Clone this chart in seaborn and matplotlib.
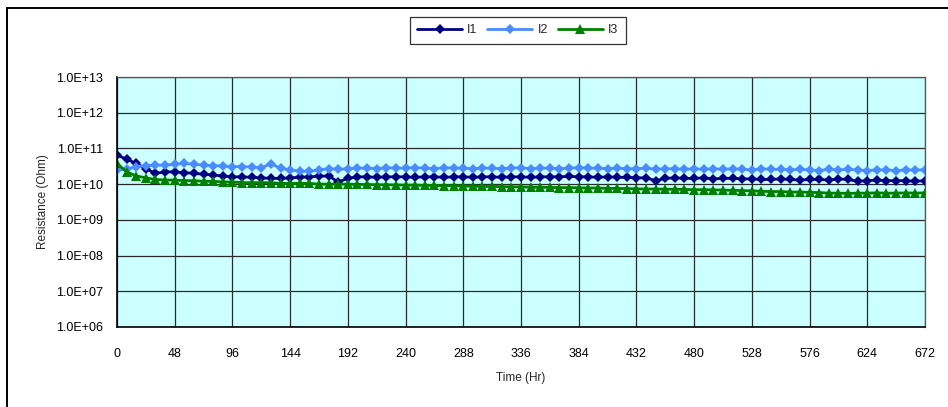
import matplotlib
matplotlib.use("Agg")
import matplotlib.pyplot as plt
import matplotlib.patches as mpatches
from matplotlib.ticker import FixedLocator, FuncFormatter, NullLocator
import seaborn as sns
import pandas as pd

# Sampling times (hours), one reading every 8 h
hours = list(range(0, 673, 8))

# Insulation resistance readings, in GOhm
i1_gohm = [65, 50, 38, 27, 20, 22, 22, 21, 20, 19,
           18, 17, 16, 16, 15.5, 15, 14.5, 14.5, 15, 15.5,
           16, 16.5, 17, 11.5, 14.5, 16, 16, 15.5, 16, 16,
           16, 15.5, 16, 16, 15.5, 16, 16, 15.5, 16, 16,
           15.5, 16, 16, 15.5, 16, 16, 16, 16.5, 16, 16,
           15.5, 16, 15.5, 15.5, 15, 15, 12.5, 14.5, 15, 14.5,
           14.5, 15, 14, 14.5, 14.5, 14, 14, 13.5, 13.5, 14,
           13.5, 13, 13.5, 13.5, 13, 14, 13.5, 12, 12.5, 13,
           12.5, 12.5, 12.5, 12, 12.5]
i2_gohm = [25, 26, 31, 33, 34, 34, 36, 38, 36, 34,
           33, 32, 31, 31, 30, 29, 37, 28, 25, 23,
           23, 25, 27, 26, 27, 28, 28, 27, 29, 28,
           28, 29, 28, 27, 29, 28, 28, 27, 28, 28,
           27, 28, 29, 27, 28, 28, 27, 28, 29, 28,
           28, 27, 28, 27, 27, 28, 26, 27, 27, 26,
           27, 26, 27, 26, 27, 26, 25, 27, 26, 26,
           25, 26, 25, 24, 26, 25, 26, 25, 24, 25,
           25, 24, 25, 25, 25]
i3_gohm = [38, 22, 17, 15, 13.5, 13, 13, 12.5, 12.5, 12,
           12, 11.5, 11.5, 11, 11, 11, 11, 10.5, 10.5, 10.5,
           10.5, 10, 10, 10, 10, 9.8, 9.8, 9.6, 9.6, 9.5,
           9.4, 9.4, 9.2, 9.2, 9.0, 9.0, 8.8, 8.8, 8.6, 8.6,
           8.5, 8.4, 8.4, 8.2, 8.2, 8.1, 8.0, 8.0, 7.9, 7.8,
           7.8, 7.6, 7.6, 7.5, 7.4, 7.3, 7.3, 7.2, 7.2, 7.1,
           7.0, 7.0, 6.9, 6.8, 6.7, 6.6, 6.5, 6.3, 6.2, 6.2,
           6.0, 6.0, 5.9, 5.8, 5.6, 5.6, 5.5, 5.6, 5.6, 5.7,
           5.6, 5.6, 5.7, 5.6, 5.7]

series_names = ["I1", "I2", "I3"]
x_ticks = list(range(0, 673, 48))
y_ticks = [1e6, 1e7, 1e8, 1e9, 1e10, 1e11, 1e12, 1e13]

frames = []
for name, vals in zip(series_names, [i1_gohm, i2_gohm, i3_gohm]):
    frames.append(pd.DataFrame({"Time": hours,
                                "Resistance": [v * 1e9 for v in vals],
                                "Series": name}))
df = pd.concat(frames, ignore_index=True)

sns.set_style("white")
plt.rcParams["font.family"] = ["Liberation Sans", "DejaVu Sans"]

fig = plt.figure(figsize=(9.48, 4.07), dpi=100)
ax = fig.add_axes([0.1234, 0.1966, 0.8523, 0.6142])
ax.set_facecolor("#CCFFFF")

palette = {"I1": "#000080", "I2": "#4A8BFF", "I3": "#008000"}
markers = {"I1": "D", "I2": "D", "I3": "^"}
sns.lineplot(data=df, x="Time", y="Resistance", hue="Series", style="Series",
             palette=palette, markers=markers, dashes=False, linewidth=2.0,
             markersize=5, markeredgewidth=0, ax=ax, legend=True)
# triangles read a little larger than the diamonds
for line in ax.get_lines():
    if line.get_marker() == "^":
        line.set_markersize(6.5)

ax.set_yscale("log")
ax.set_ylim(1e6, 1e13)
ax.set_xlim(0, 672)
ax.yaxis.set_major_locator(FixedLocator(y_ticks))
ax.yaxis.set_minor_locator(NullLocator())
ax.yaxis.set_major_formatter(FuncFormatter(lambda v, p: f"{v:.1E}"))
ax.xaxis.set_major_locator(FixedLocator(x_ticks))

ax.grid(True, which="major", color="#2a2a2a", linewidth=0.9)
ax.set_axisbelow(True)
for side in ["left", "bottom"]:
    ax.spines[side].set_color("black")
    ax.spines[side].set_linewidth(1.2)
for side in ["top", "right"]:
    ax.spines[side].set_color("#555555")
    ax.spines[side].set_linewidth(0.9)

ax.tick_params(axis="y", direction="in", length=4, labelsize=9, pad=10, colors="black")
ax.tick_params(axis="x", direction="in", length=4, labelsize=9, pad=15, colors="black")

ax.set_xlabel("Time (Hr)", fontsize=8.5, labelpad=9)
ax.set_ylabel("Resistance (Ohm)", fontsize=8.5, labelpad=5)

handles, labels = ax.get_legend_handles_labels()
for h in handles:
    if h.get_marker() == "^":
        h.set_markersize(6.5)
ax.get_legend().remove()
leg = fig.legend(handles, labels, loc="center", bbox_to_anchor=(0.546, 0.926),
                 ncol=3, fontsize=9, frameon=True, fancybox=False,
                 edgecolor="black", handlelength=3.6, columnspacing=0.8,
                 handletextpad=0.4, borderpad=0.6)
leg.get_frame().set_linewidth(0.9)

# Chart frame, open at the right and bottom edges
frame = mpatches.Rectangle((7 / 948, -0.05), 1.2, 1 - 8 / 407 + 0.05,
                           transform=fig.transFigure, fill=False,
                           edgecolor="black", linewidth=1.4)
fig.patches.append(frame)

fig.savefig("out.png", dpi=100)
